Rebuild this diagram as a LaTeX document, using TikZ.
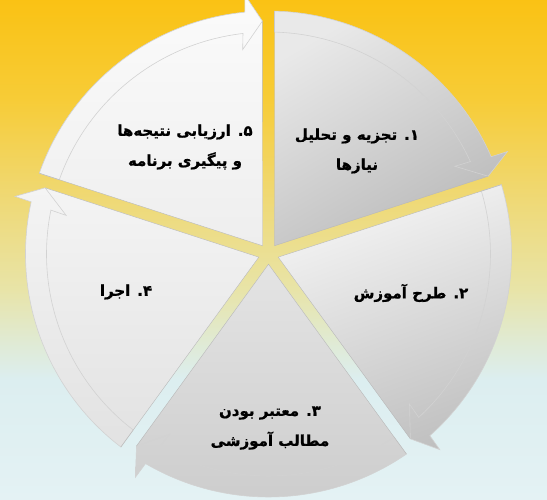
\documentclass[tikz,border=0pt]{standalone}
\usepackage{fontspec}
\newfontfamily\arabicfont[Script=Arabic,FakeBold=1]{DejaVu Sans Bold}
\TeXXeTstate=1
\definecolor{bg0}{RGB}{228,242,244}
\definecolor{bg1}{RGB}{220,238,240}
\definecolor{bg2}{RGB}{224,234,210}
\definecolor{bg3}{RGB}{232,228,168}
\definecolor{bg4}{RGB}{239,217,118}
\definecolor{bg5}{RGB}{247,204,55}
\definecolor{bg6}{RGB}{250,194,20}
\definecolor{sA1}{RGB}{233,233,233}\definecolor{sA2}{RGB}{186,186,186}
\definecolor{sB1}{RGB}{245,245,245}\definecolor{sB2}{RGB}{192,192,192}
\definecolor{sC1}{RGB}{228,228,228}\definecolor{sC2}{RGB}{204,204,204}
\definecolor{sD1}{RGB}{244,244,244}\definecolor{sD2}{RGB}{226,226,226}
\definecolor{sE1}{RGB}{251,251,251}\definecolor{sE2}{RGB}{238,238,238}
\tikzset{
  segline/.style={draw=gray!55,line width=0.4pt},
  bandline/.style={draw=gray!35,line width=0.6pt},
  lbl/.style={font=\arabicfont\fontsize{15}{30}\selectfont,align=center,text=black,inner sep=0pt}
}
\newcommand\cycseg[4]{%
  \pgfmathsetmacro\sa{#1}\pgfmathsetmacro\sb{#1-72}\pgfmathsetmacro\sm{#1-36}%
  \path[top color=#2,bottom color=#3,shading angle=#4]
    (\sm:10.2) -- ({\sa-1.48}:233) arc[start angle={\sa-1.48},end angle={\sb+1.48},radius=233] -- cycle
    ({\sa-1.41}:243) arc[start angle={\sa-1.41},end angle={\sb+5.6},radius=243]
      -- ({\sb+5.2}:260) -- ({\sb+1.5}:233) -- ({\sb+7.2}:206) -- ({\sb+6.6}:222)
      arc[start angle={\sb+6.6},end angle={\sa-1.55},radius=222] -- cycle;
  \path[bandline]
    ({\sa-1.41}:243) arc[start angle={\sa-1.41},end angle={\sb+5.6},radius=243]
      -- ({\sb+5.2}:260) -- ({\sb+1.5}:233) -- ({\sb+7.2}:206) -- ({\sb+6.6}:222)
      arc[start angle={\sb+6.6},end angle={\sa-1.55},radius=222] -- cycle;
  \path[segline] ({\sb+1.5}:233) -- (\sm:10.2) -- ({\sa-1.41}:243);
}
\begin{document}
\begin{tikzpicture}[x=1pt,y=1pt]
\useasboundingbox (0,0) rectangle (547,500);
\shade[bottom color=bg0,top color=bg1] (0,-0.5) rectangle (547,120.5);
\shade[bottom color=bg1,top color=bg2] (0,120) rectangle (547,160.5);
\shade[bottom color=bg2,top color=bg3] (0,160) rectangle (547,210.5);
\shade[bottom color=bg3,top color=bg4] (0,210) rectangle (547,300.5);
\shade[bottom color=bg4,top color=bg5] (0,300) rectangle (547,400.5);
\shade[bottom color=bg5,top color=bg6] (0,400) rectangle (547,500.5);
\begin{scope}[shift={(268.5,246)}]
  \cycseg{90}{sA1}{sA2}{30}
  \cycseg{18}{sB1}{sB2}{20}
  \cycseg{-54}{sC1}{sC2}{0}
  \cycseg{-126}{sD1}{sD2}{0}
  \cycseg{-198}{sE1}{sE2}{0}
\end{scope}
\node[lbl] (t1) at (357,349) {\beginR ۱\kern0pt. تجزیه و تحلیل\endR\\\beginR نیازها\endR};
\node[lbl] (t2) at (411,207) {\beginR ۲\kern0pt. طرح آموزش\endR};
\node[lbl] (t3) at (270,72) {\beginR ۳\kern0pt. معتبر بودن\endR\\\beginR مطالب آموزشی\endR};
\node[lbl] (t4) at (126,208) {\beginR ۴\kern0pt. اجرا\endR};
\node[lbl] (t5) at (185,353) {\beginR ۵\kern0pt. ارزیابی نتیجه‌ها\endR\\\beginR و پیگیری برنامه\endR};
\end{tikzpicture}
\end{document}
